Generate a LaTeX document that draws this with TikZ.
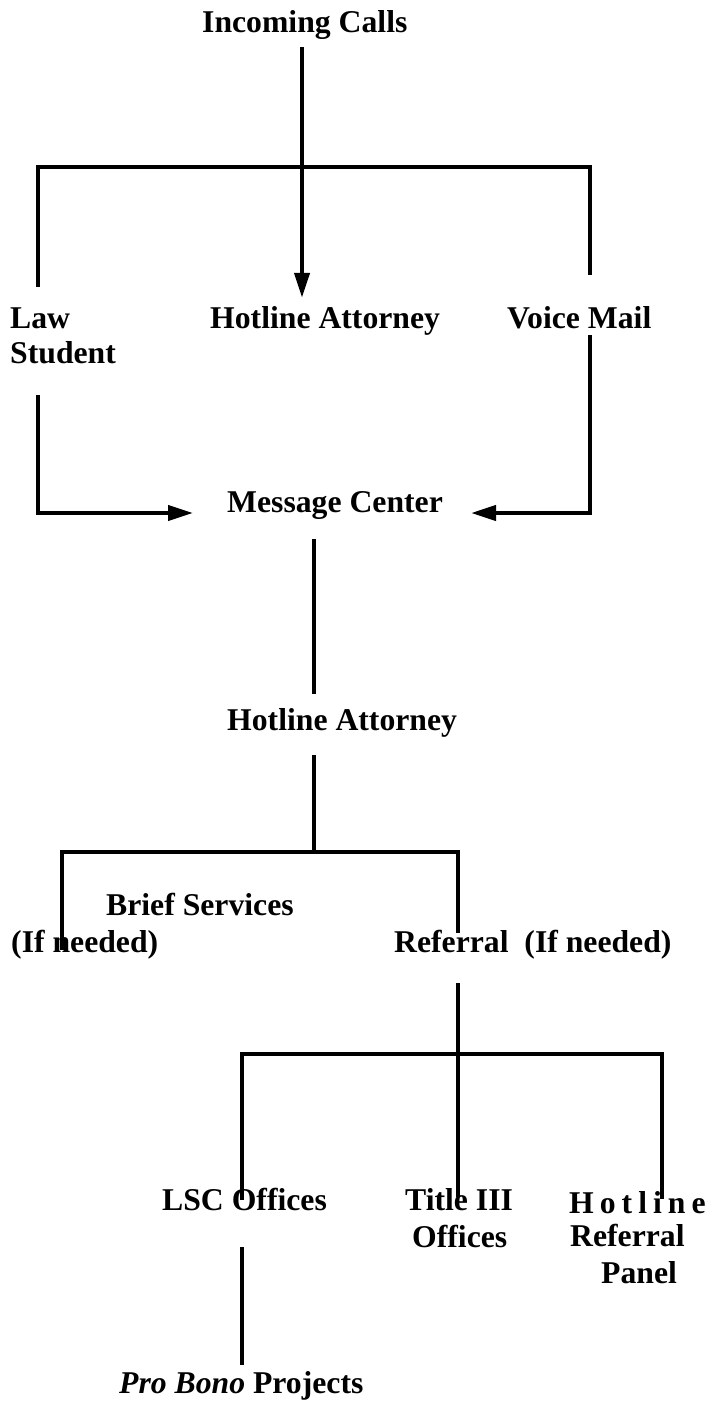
\documentclass[tikz,border=0pt]{standalone}
\usepackage{fontspec}
\setmainfont{Liberation Serif}
\usetikzlibrary{arrows.meta}
\newcommand{\lsp}{\kern6pt}
\begin{document}
\begin{tikzpicture}[x=1pt,y=-1pt,
  lbl/.style={anchor=base west,inner sep=0pt,text height=22pt,text depth=7pt,
    font=\fontsize{31.7}{36}\selectfont\bfseries},
  ln/.style={line width=4.2pt,line cap=butt,line join=miter},
  arr/.style={ln,-{Triangle[length=25pt,width=15pt]}}]
\useasboundingbox[fill=white] (0,0) rectangle (705,1402);

% text nodes
\node[lbl] (ic) at (202,33) {Incoming Calls};
\node[lbl] (law1) at (10,328) {Law};
\node[lbl] (law2) at (10,363) {Student};
\node[lbl] (ha1) at (210,328) {Hotline Attorney};
\node[lbl] (vm) at (507,328) {Voice Mail};
\node[lbl] (mc) at (227,512) {Message Center};
\node[lbl] (ha2) at (227,730) {Hotline Attorney};
\node[lbl] (bs) at (106,915) {Brief Services};
\node[lbl] (ifn) at (11,952) {(If needed)};
\node[lbl] (ref) at (394,952) {Referral\ \ (If needed)};
\node[lbl] (lsc) at (162,1210) {LSC Offices};
\node[lbl] (t3a) at (405,1210) {Title III};
\node[lbl] (t3b) at (412,1247) {Offices};
\node[lbl] (hl1) at (569,1213) {H\lsp o\lsp t\lsp l\lsp i\lsp n\lsp e};
\node[lbl] (hl2) at (570,1246) {Referral};
\node[lbl] (hl3) at (601,1283) {Panel};
\node[lbl] (pb) at (119,1393) {\textit{Pro Bono} Projects};

% junction coordinates
\coordinate (j1) at (302,167);
\coordinate (bl) at (38,167);
\coordinate (br) at (590,167);
\coordinate (c1) at (38,513);
\coordinate (c2) at (590,513);
\coordinate (j2) at (314,852);
\coordinate (bl2) at (62,852);
\coordinate (br2) at (458,852);
\coordinate (e1) at (62,950);
\coordinate (e2) at (458,933);
\coordinate (j3) at (458,1054);
\coordinate (bl3) at (242,1054);
\coordinate (br3) at (662,1054);
\coordinate (e3) at (458,1197);
\coordinate (e4) at (242,1200);
\coordinate (e5) at (662,1199);

% connectors
\draw[arr,shorten <=7pt,shorten >=8pt] (ic.south -| j1) -- (ha1.north -| j1);
\draw[ln,shorten <=19pt,shorten >=31pt] (law1.north -| bl) -- (bl) -- (br) -- (vm.north -| br);
\draw[arr,shorten <=25pt,shorten >=34pt] (law2.south -| c1) -- (c1) -- (mc.west |- c1);
\draw[arr,shorten >=28pt] (vm.south -| c2) -- (c2) -- (mc.east |- c2);
\draw[ln,shorten <=20pt,shorten >=14pt] (mc.south -| j2) -- (ha2.north -| j2);
\draw[ln,shorten <=18pt] (ha2.south -| j2) -- (j2);
\draw[ln] (e1) -- (bl2) -- (br2) -- (e2);
\draw[ln,shorten <=24pt] (ref.south -| e3) -- (e3);
\draw[ln] (e4) -- (bl3) -- (br3) -- (e5);
\draw[ln,shorten <=30pt,shorten >=6pt] (lsc.south -| e4) -- (pb.north -| e4);
\end{tikzpicture}
\end{document}
